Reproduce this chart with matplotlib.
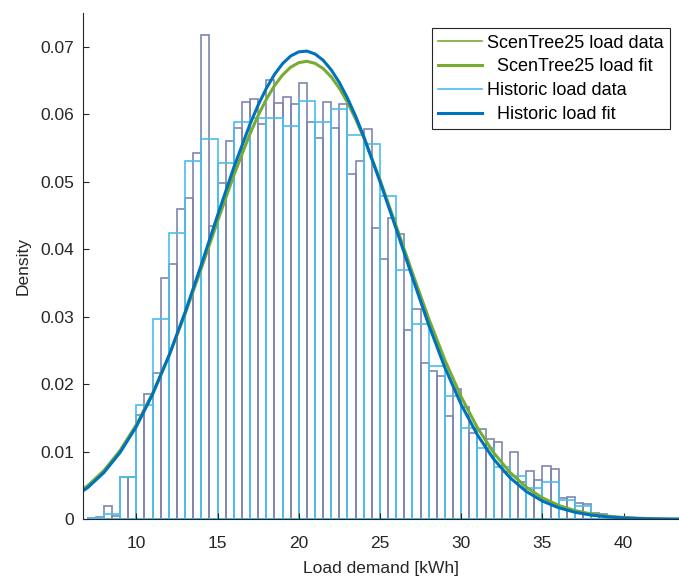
import matplotlib
matplotlib.use('Agg')
import matplotlib.pyplot as plt
from matplotlib.lines import Line2D

plt.rcParams['font.family'] = ['Liberation Sans', 'DejaVu Sans']

# ScenTree25 load histogram, 0.5 kWh bins from 7 to 40
scen_edges = [7 + 0.5 * i for i in range(67)]
scen_density = [
    0.0002, 0.0003, 0.0020, 0.0005, 0.0063, 0.0062,
    0.0155, 0.0185, 0.0216, 0.0358, 0.0378, 0.0459, 0.0476, 0.0543,
    0.0717, 0.0434, 0.0498, 0.0560, 0.0580, 0.0618, 0.0622, 0.0585,
    0.0651, 0.0617, 0.0625, 0.0615, 0.0646, 0.0588, 0.0565, 0.0618,
    0.0580, 0.0615, 0.0511, 0.0531, 0.0578, 0.0432, 0.0385, 0.0447,
    0.0423, 0.0280, 0.0312, 0.0231, 0.0219, 0.0213, 0.0153, 0.0193,
    0.0167, 0.0128, 0.0134, 0.0119, 0.0115, 0.0070, 0.0100, 0.0055,
    0.0072, 0.0058, 0.0079, 0.0074, 0.0031, 0.0033, 0.0024, 0.0023,
    0.0010, 0.0008, 0.0002, 0.0001,
]

# historic load histogram, 1 kWh bins from 7 to 40
hist_edges = list(range(7, 41))
hist_density = [
    0.0002, 0.0008, 0.0063, 0.0170, 0.0297, 0.0424, 0.0531, 0.0563,
    0.0528, 0.0588, 0.0595, 0.0595, 0.0583, 0.0620, 0.0588, 0.0608,
    0.0570, 0.0556, 0.0479, 0.0370, 0.0290, 0.0227, 0.0182, 0.0135,
    0.0105, 0.0077, 0.0064, 0.0047, 0.0056, 0.0028, 0.0019, 0.0006,
    0.0002,
]

# fitted curves
fit_x = [6, 7, 8, 9, 10, 11, 12, 13, 14, 15, 16, 17, 17.5, 18, 18.5, 19,
         19.5, 20, 20.5, 21, 21.5, 22, 22.5, 23, 23.5, 24, 25, 26, 27, 28,
         29, 30, 31, 32, 33, 34, 35, 36, 37, 38, 39, 40, 41, 42, 43, 44]
scen_fit = [
    0.00332, 0.00496, 0.00721, 0.01019, 0.01399, 0.01866, 0.02415, 0.03040,
    0.03716, 0.04414, 0.05095, 0.05712, 0.05983, 0.06220, 0.06422, 0.06581,
    0.06697, 0.06765, 0.06785, 0.06755, 0.06678, 0.06554, 0.06385, 0.06176,
    0.05931, 0.05655, 0.05030, 0.04346, 0.03648, 0.02975, 0.02357, 0.01814,
    0.01357, 0.00986, 0.00696, 0.00477, 0.00318, 0.00206, 0.00129, 0.00079,
    0.00047, 0.00027, 0.00015, 0.00008, 0.00004, 0.00002,
]
hist_fit = [
    0.00308, 0.00468, 0.00691, 0.00989, 0.01373, 0.01850, 0.02418, 0.03065,
    0.03770, 0.04501, 0.05211, 0.05854, 0.06136, 0.06382, 0.06588, 0.06749,
    0.06863, 0.06925, 0.06936, 0.06894, 0.06801, 0.06658, 0.06470, 0.06239,
    0.05972, 0.05672, 0.05003, 0.04300, 0.03580, 0.02880, 0.02245, 0.01700,
    0.01249, 0.00892, 0.00617, 0.00414, 0.00270, 0.00171, 0.00105, 0.00062,
    0.00036, 0.00020, 0.00011, 0.00005, 0.00002, 0.00001,
]

labels = ['ScenTree25 load data', '  ScenTree25 load fit',
          'Historic load data', '  Historic load fit']

c_scen_bar = '#7d87af'
c_green = '#77AC30'
c_light = '#4DBEEE'
c_blue = '#0072BD'

fig = plt.figure(figsize=(6.79, 5.79), dpi=100)
ax = fig.add_axes([0.1218, 0.1031, 0.878, 0.8744])

ax.bar(scen_edges[:-1], scen_density, width=0.5, align='edge', fill=False,
       edgecolor=c_scen_bar, linewidth=1.2)
ax.bar(hist_edges[:-1], hist_density, width=1.0, align='edge', fill=False,
       edgecolor=c_light, linewidth=1.2)
ax.plot(fit_x, scen_fit, color=c_green, linewidth=2.2)
ax.plot(fit_x, hist_fit, color=c_blue, linewidth=2.2)

ax.set_xlim(6.7, 43.4)
ax.set_ylim(0, 0.075)
ax.set_xticks([10, 15, 20, 25, 30, 35, 40])
ax.set_yticks([0, 0.01, 0.02, 0.03, 0.04, 0.05, 0.06, 0.07])
ax.set_yticklabels(['0', '0.01', '0.02', '0.03', '0.04', '0.05', '0.06', '0.07'])
ax.tick_params(direction='in', length=4, width=0.8, labelsize=12.5,
               colors='#262626')
ax.tick_params(axis='x', pad=12)
ax.tick_params(axis='y', pad=6)
for side in ['top', 'right']:
    ax.spines[side].set_visible(False)
for side in ['left', 'bottom']:
    ax.spines[side].set_color('#262626')
    ax.spines[side].set_linewidth(0.8)

ax.set_xlabel('Load demand [kWh]', fontsize=12.5, color='#262626', labelpad=7)
ax.set_ylabel('Density', fontsize=12.5, color='#262626', labelpad=7)

handles = [
    Line2D([], [], color=c_green, linewidth=1.2),
    Line2D([], [], color=c_green, linewidth=2.2),
    Line2D([], [], color=c_light, linewidth=1.2),
    Line2D([], [], color=c_blue, linewidth=2.2),
]
leg = ax.legend(handles, labels, loc='upper right', bbox_to_anchor=(0.985, 0.97),
                fontsize=13, fancybox=False, framealpha=1, edgecolor='#262626',
                handlelength=2.4, borderpad=0.35, labelspacing=0.38,
                handletextpad=0.3, borderaxespad=0)
leg.get_frame().set_linewidth(0.8)

fig.savefig('out.png', dpi=100)
